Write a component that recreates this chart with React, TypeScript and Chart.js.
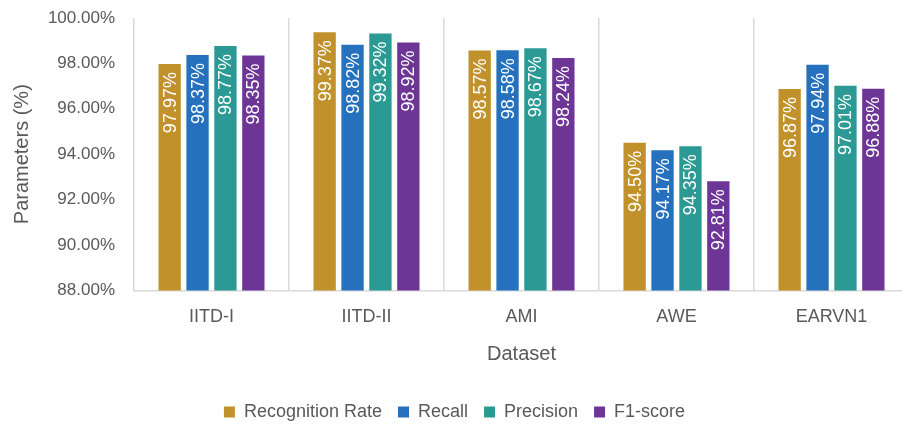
import React, { useEffect, useRef } from "react";
import { Chart, registerables } from "chart.js";

Chart.register(...registerables);

const datasetNames = ["IITD-I", "IITD-II", "AMI", "AWE", "EARVN1"];
const recognitionRate = [97.97, 99.37, 98.57, 94.5, 96.87];
const recall = [98.37, 98.82, 98.58, 94.17, 97.94];
const precision = [98.77, 99.32, 98.67, 94.35, 97.01];
const f1Score = [98.35, 98.92, 98.24, 92.81, 96.88];
const yTicks = [88, 90, 92, 94, 96, 98, 100];

const FONT = "'Liberation Sans', Arial, sans-serif";
const TEXT_GRAY = "#595959";
const GRID_GRAY = "#d9d9d9";

// Writes each bar's value vertically, in white, just below the bar's top.
const barValueLabels = {
  id: "barValueLabels",
  afterDatasetsDraw(chart: any) {
    const ctx = chart.ctx;
    ctx.save();
    ctx.fillStyle = "#ffffff";
    ctx.font = `18px ${FONT}`;
    ctx.textAlign = "right";
    ctx.textBaseline = "middle";
    chart.data.datasets.forEach((ds: any, di: number) => {
      const meta = chart.getDatasetMeta(di);
      meta.data.forEach((bar: any, i: number) => {
        const v = ds.data[i] as number;
        ctx.save();
        ctx.translate(bar.x, bar.y + 8);
        ctx.rotate(-Math.PI / 2);
        ctx.fillText(v.toFixed(2) + "%", 0, 1);
        ctx.restore();
      });
    });
    ctx.restore();
  },
};

export default function App() {
  const ref = useRef<HTMLCanvasElement | null>(null);

  useEffect(() => {
    if (!ref.current) return;
    const chart = new Chart(ref.current, {
      type: "bar",
      data: {
        labels: datasetNames,
        datasets: [
          { label: "Recognition Rate", data: recognitionRate, backgroundColor: "#c1922b" },
          { label: "Recall", data: recall, backgroundColor: "#2571bd" },
          { label: "Precision", data: precision, backgroundColor: "#2b9a95" },
          { label: "F1-score", data: f1Score, backgroundColor: "#6d3596" },
        ],
      },
      options: {
        animation: false,
        responsive: true,
        maintainAspectRatio: false,
        layout: { padding: { top: 18, right: 3, bottom: -6, left: 0 } },
        datasets: {
          bar: { categoryPercentage: 0.72, barPercentage: 0.8 },
        },
        plugins: {
          tooltip: { enabled: false },
          legend: {
            position: "bottom",
            labels: {
              boxWidth: 11,
              boxHeight: 11,
              padding: 16,
              color: TEXT_GRAY,
              font: { family: FONT, size: 18 },
            },
          },
        },
        scales: {
          x: {
            offset: true,
            grid: {
              offset: true,
              color: GRID_GRAY,
              lineWidth: 1.5,
              drawTicks: false,
            },
            border: { display: true, color: GRID_GRAY, width: 1.5 },
            ticks: {
              padding: 16,
              color: TEXT_GRAY,
              font: { family: FONT, size: 18 },
            },
            title: {
              display: true,
              text: "Dataset",
              color: TEXT_GRAY,
              font: { family: FONT, size: 20 },
              padding: { top: -2, bottom: 21 },
            },
          },
          y: {
            min: yTicks[0],
            max: yTicks[yTicks.length - 1],
            afterBuildTicks(scale: any) {
              scale.ticks = yTicks.map((v) => ({ value: v }));
            },
            afterFit(scale: any) {
              scale.width = 134;
              scale.paddingTop = 0;
              scale.paddingBottom = 0;
            },
            grid: { display: false, drawTicks: false },
            border: { display: false },
            ticks: {
              padding: 19,
              color: TEXT_GRAY,
              font: { family: FONT, size: 17 },
              callback: (v: any) => Number(v).toFixed(2) + "%",
            },
            title: {
              display: true,
              text: "Parameters (%)",
              color: TEXT_GRAY,
              font: { family: FONT, size: 20 },
              padding: { top: 10, bottom: 0 },
            },
          },
        },
      },
      plugins: [barValueLabels],
    });
    return () => chart.destroy();
  }, []);

  return (
    <div
      style={{
        position: "absolute",
        left: 0,
        top: 0,
        width: 902,
        height: 425,
        overflow: "hidden",
        background: "#ffffff",
      }}
    >
      <div style={{ position: "relative", width: 912, height: 425 }}>
        <canvas ref={ref} />
      </div>
    </div>
  );
}
